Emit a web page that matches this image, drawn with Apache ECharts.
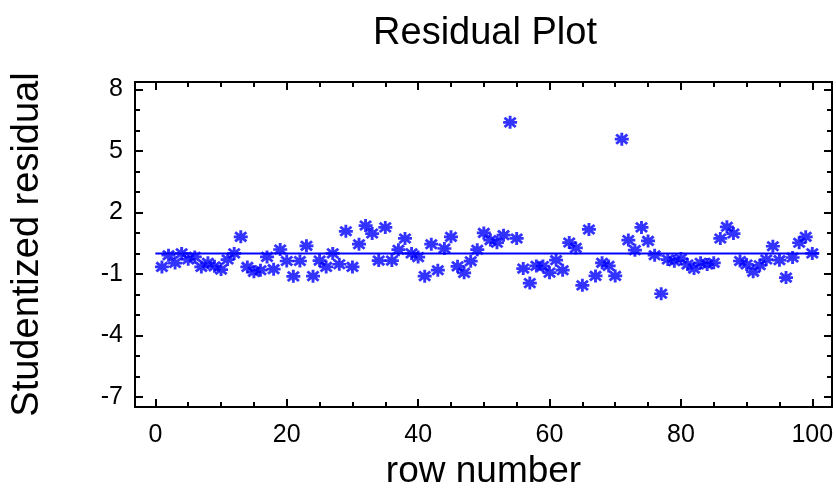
<!DOCTYPE html>
<html>
<head>
<meta charset="utf-8">
<script src="https://cdn.jsdelivr.net/npm/echarts@6/dist/echarts.min.js"></script>
<style>html,body{margin:0;padding:0;background:#fff;}#c{width:836px;height:489px;}</style>
</head>
<body>
<div id="c"></div>
<script>
// Studentized residuals for rows 1..100
const residuals = [
  -0.66, -0.09, -0.47, 0.00, -0.29, -0.17, -0.66, -0.46, -0.63, -0.79,
  -0.30, 0.00, 0.81, -0.66, -0.90, -0.82, -0.17, -0.77, 0.19, -0.37,
  -1.12, -0.37, 0.37, -1.11, -0.35, -0.66, 0.00, -0.53, 1.08, -0.66,
  0.45, 1.36, 0.97, -0.35, 1.27, -0.35, 0.18, 0.73, 0.00, -0.18,
  -1.11, 0.45, -0.82, 0.24, 0.81, -0.63, -0.95, -0.38, 0.18, 1.00,
  0.65, 0.52, 0.89, 6.40, 0.73, -0.74, -1.45, -0.61, -0.62, -0.94,
  -0.33, -0.82, 0.53, 0.27, -1.56, 1.17, -1.10, -0.46, -0.61, -1.10,
  5.58, 0.65, 0.16, 1.27, 0.61, -0.09, -1.97, -0.30, -0.38, -0.25,
  -0.54, -0.74, -0.46, -0.54, -0.46, 0.73, 1.30, 0.97, -0.37, -0.54,
  -0.90, -0.58, -0.30, 0.35, -0.33, -1.18, -0.20, 0.52, 0.81, 0.00
];
const zeroLine = [[0, 0], [101, 0]];
const xMajorTicks = [0, 20, 40, 60, 80, 100];
const xMinorTicks = [5, 10, 15, 25, 30, 35, 45, 50, 55, 65, 70, 75, 85, 90, 95];
const yMajorTicks = [-7, -4, -1, 2, 5, 8];
const yMinorTicks = [-6, -5, -3, -2, 0, 1, 3, 4, 6, 7];

const points = residuals.map((v, i) => [i + 1, v]);

const FONT = '"Liberation Sans", Arial, sans-serif';
const X_MIN = -3.1, X_MAX = 103, Y_MIN = -7.5, Y_MAX = 8.37;

function xAx(pos, ticks, len, labels, name) {
  return {
    type: 'value', position: pos, min: X_MIN, max: X_MAX,
    name: name || '', nameLocation: 'middle', nameGap: 38,
    nameTextStyle: { fontFamily: FONT, fontSize: 37, color: '#000' },
    axisLine: { show: true, onZero: false, lineStyle: { color: '#000', width: 2 } },
    axisTick: { show: true, inside: true, length: len, customValues: ticks, lineStyle: { color: '#000', width: 2 } },
    axisLabel: labels ? { show: true, customValues: ticks, margin: 16, fontFamily: FONT, fontSize: 25, color: '#000' } : { show: false },
    splitLine: { show: false }
  };
}
function yAx(pos, ticks, len, labels, name) {
  return {
    type: 'value', position: pos, min: Y_MIN, max: Y_MAX,
    name: name || '', nameLocation: 'middle', nameGap: 88, nameRotate: 90,
    nameTextStyle: { fontFamily: FONT, fontSize: 38, color: '#000' },
    axisLine: { show: true, onZero: false, lineStyle: { color: '#000', width: 2 } },
    axisTick: { show: true, inside: true, length: len, customValues: ticks, lineStyle: { color: '#000', width: 2 } },
    axisLabel: labels ? { show: true, customValues: ticks, margin: 12, fontFamily: FONT, fontSize: 25, color: '#000' } : { show: false },
    splitLine: { show: false }
  };
}

const chart = echarts.init(document.getElementById('c'), null, { renderer: 'canvas' });
chart.setOption({
  backgroundColor: '#fff',
  animation: false,
  title: {
    text: 'Residual Plot', left: 480, top: 10, textAlign: 'center',
    textStyle: { fontFamily: FONT, fontSize: 38, fontWeight: 'normal', color: '#000' }
  },
  grid: { left: 135, right: 4, top: 82, bottom: 82, containLabel: false, outerBoundsMode: 'none' },
  xAxis: [
    xAx('bottom', xMajorTicks, 8, true, 'row number'),
    xAx('bottom', xMinorTicks, 5, false),
    xAx('top', xMajorTicks, 8, false),
    xAx('top', xMinorTicks, 5, false)
  ],
  yAxis: [
    yAx('left', yMajorTicks, 8, true, 'Studentized residual'),
    yAx('left', yMinorTicks, 5, false),
    yAx('right', yMajorTicks, 8, false),
    yAx('right', yMinorTicks, 5, false)
  ],
  series: [
    {
      type: 'line', data: zeroLine, xAxisIndex: 0, yAxisIndex: 0,
      symbol: 'none', lineStyle: { color: '#0000ff', width: 2 }, silent: true
    },
    {
      type: 'scatter', data: points, xAxisIndex: 0, yAxisIndex: 0,
      symbol: 'path://M10 0L10 20M0 10L20 10M2 3L18 17M2 17L18 3',
      symbolSize: [14, 13],
      itemStyle: { color: 'rgba(0,0,0,0)', borderColor: '#0000ff', borderWidth: 2.8 }
    }
  ]
});
</script>
</body>
</html>
